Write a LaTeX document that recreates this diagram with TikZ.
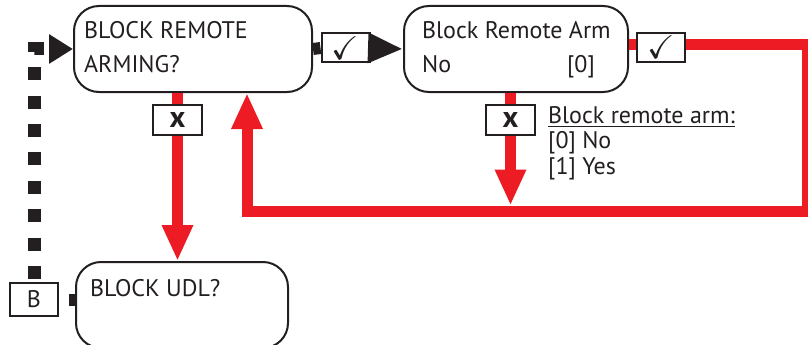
\documentclass[tikz,border=0pt]{standalone}
\usepackage{fontspec}
\usepackage{amssymb}
\setmainfont{PT Sans}
\usetikzlibrary{arrows.meta,positioning}
\definecolor{flowred}{RGB}{237,28,36}
\definecolor{flowblack}{RGB}{35,31,32}

\begin{document}
\begin{tikzpicture}[x=1pt,y=-1pt]
% Define styles
\tikzset{
  menubox/.style={rectangle, rounded corners=25pt, draw=flowblack, line width=2pt, fill=white, minimum width=#1, minimum height=86pt, inner sep=0pt},
  keybox/.style={rectangle, draw=flowblack, line width=2pt, fill=white, minimum width=48pt, minimum height=29pt, inner sep=0pt, text=flowblack},
  txt/.style={inner sep=0pt, text=flowblack, font=\fontsize{24}{28}\selectfont},
  redline/.style={draw=flowred, line width=11pt},
  blackline/.style={draw=flowblack, line width=12pt},
  dotline/.style={draw=flowblack, line width=13pt, dash pattern=on 13pt off 15.4pt, dash phase=25.4pt},
  redtip/.style={-{Triangle[length=36pt,width=29pt]}},
  blacktip/.style={-{Triangle[length=35pt,width=28pt]}},
  dottip/.style={-{Triangle[length=24pt,width=28pt]}}
}
\useasboundingbox (0,0) rectangle (808,345);

% Menu boxes
\node (arming) [menubox=238pt] at (193,49) {};
\node (armval) [menubox=224pt] at (516,49) {};
\node (udl) [menubox=212pt] at (182,305) {};
\node (bkey) [keybox, minimum height=33pt, font=\fontsize{24}{28}\selectfont] at (34,299.5) {B};

% Texts in the boxes
\node (armingA) [txt, anchor=base west] at (84,38) {BLOCK REMOTE};
\node (armingB) [txt, anchor=base west] at (84,73) {ARMING?};
\node (armvalA) [txt, anchor=base west] at (422,38) {Block Remote Arm};
\node (armvalB) [txt, anchor=base west] at (422,73) {No};
\node (armvalC) [txt, anchor=base east] at (595,73) {[0]};
\node (udlA) [txt, anchor=base west] at (90,296) {BLOCK UDL?};

% Option list
\node (optA) [txt, anchor=base west] at (548,123) {\underline{Block remote arm:}};
\node (optB) [txt, anchor=base west] at (548,148) {[0] No};
\node (optC) [txt, anchor=base west] at (548,174) {[1] Yes};

% Yes / no keys
\node (yes1) [keybox, font=\fontsize{33}{33}\selectfont] at (345.5,48) {$\checkmark$};
\node (yes2) [keybox, font=\fontsize{33}{33}\selectfont] at (661,47.5) {$\checkmark$};
\node (no1) [keybox, minimum width=49pt, minimum height=30pt, font=\fontsize{30}{30}\selectfont\bfseries] at (177.5,120) {x};
\node (no2) [keybox, minimum width=49pt, minimum height=30pt, font=\fontsize{30}{30}\selectfont\bfseries] at (510.5,120) {x};

% Loop corners
\coordinate (loopNE) at (807,45);
\coordinate (loopSE) at (807,211);
\coordinate (loopSW) at (247,211);
\coordinate (dotbend) at (bkey.north |- arming.west);

% Draw connectors
\draw [blackline] (arming.east) -- (yes1.west);
\draw [blackline, blacktip] (yes1.east) -- (armval.west);
\draw [redline] (armval.east |- loopNE) -- (yes2.west |- loopNE);
\draw [redline, redtip] (yes2.east |- loopNE) -- (loopNE) -- (loopSE) -- (loopSW) -- (loopSW |- arming.south);
\draw [redline] (no1.north |- arming.south) -- (no1.north);
\draw [redline, redtip] (no1.south) -- (no1.south |- udl.north);
\draw [redline] (no2.north |- armval.south) -- (no2.north);
\draw [redline, redtip] (no2.south) -- ([yshift=5.5pt]no2.south |- loopSE);
\draw [dotline, dottip] (bkey.north) -- (dotbend) -- (arming.west);
\draw [flowblack, line width=12pt, dash pattern=on 0pt off 10pt on 10pt off 20pt] (bkey.east) -- (bkey.east -| udl.west);
\end{tikzpicture}
\end{document}
